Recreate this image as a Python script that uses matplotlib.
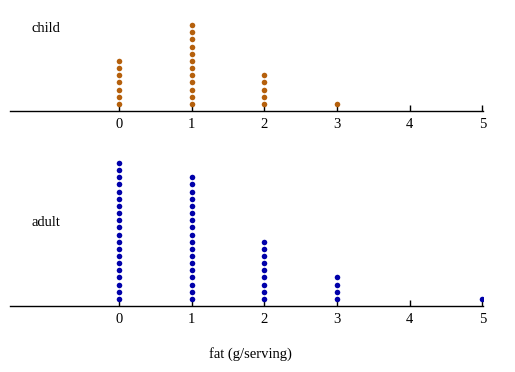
import matplotlib
matplotlib.use("Agg")
import matplotlib.pyplot as plt

# fat values (g/serving) and how many servings had each value
fat_values = [0, 1, 2, 3, 4, 5]
child_counts = [7, 12, 5, 1, 0, 0]
adult_counts = [20, 18, 9, 4, 0, 1]
group_names = ["child", "adult"]
x_label = "fat (g/serving)"

child_color = "#b5600c"
adult_color = "#0000aa"

plt.rcParams['font.family'] = ['Liberation Serif', 'DejaVu Serif']

fig = plt.figure(figsize=(5.15, 3.72), dpi=100)
W, H = 515.0, 372.0
unit = 7.15  # pixels per stacked dot


def make_panel(axis_y, n_units, counts, color, name, name_y):
    ax = fig.add_axes([10 / W, 1 - axis_y / H, 473 / W, n_units * unit / H])
    xs, ys = [], []
    for v, c in zip(fat_values, counts):
        for i in range(c):
            xs.append(v)
            ys.append(i + 1)
    ax.scatter(xs, ys, s=16, color=color, linewidths=0, zorder=3)
    ax.set_xlim(-1.5, 5.01)
    ax.set_ylim(0, n_units)
    for s in ["top", "left", "right"]:
        ax.spines[s].set_visible(False)
    ax.spines["bottom"].set_linewidth(1.0)
    ax.set_yticks([])
    ax.set_xticks(fat_values)
    ax.tick_params(axis="x", direction="in", length=4, width=1, labelsize=10.5, pad=5)
    ax.patch.set_alpha(0)
    fig.text(32 / W, 1 - name_y / H, name, fontsize=10.5, va="center", ha="left")
    return ax


make_panel(111, 14, child_counts, child_color, group_names[0], 28)
make_panel(306, 21, adult_counts, adult_color, group_names[1], 222)

fig.text(250 / W, 1 - 354 / H, x_label, fontsize=10.5, ha="center", va="center")

fig.savefig("out.png", dpi=100)
